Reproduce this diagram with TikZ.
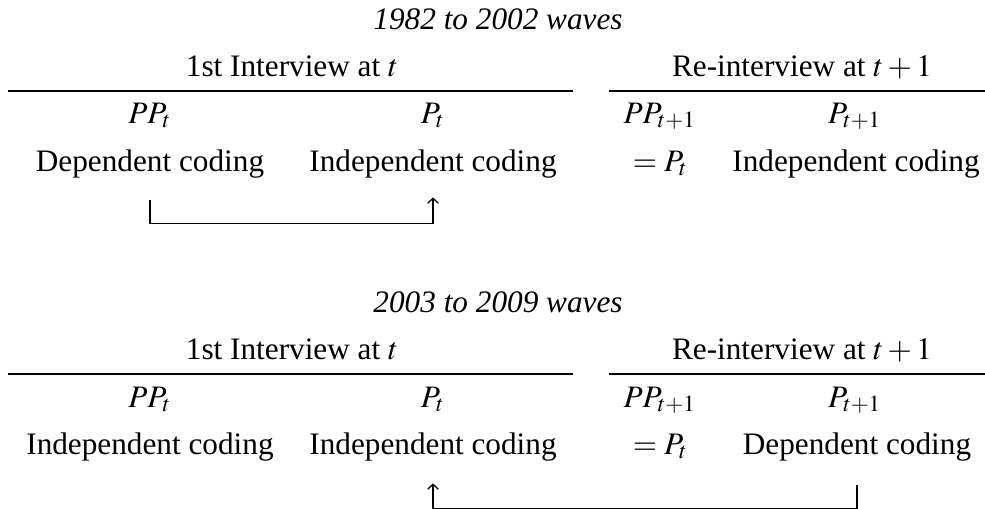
\documentclass[tikz,border=0pt]{standalone}
\usepackage{mathptmx}
\usepackage[no-math]{fontspec}
\setmainfont{Liberation Serif}
\usetikzlibrary{calc, arrows.meta, positioning}

\begin{document}
\begin{tikzpicture}[
    x=0.32pt, y=-0.32pt,
    every node/.style={font=\fontsize{10}{12}\selectfont, inner sep=0pt, anchor=base},
    wave/.style={font=\fontsize{10}{12}\selectfont\itshape},
    rule/.style={line width=0.45pt},
    flow/.style={line width=0.4pt, -{Straight Barb[length=1.6pt,width=3.4pt]}},
]
  \useasboundingbox (0,0) rectangle (985,508);

  % 1982 to 2002 waves
  \node[wave] (wavesA) at (498,29) {1982 to 2002 waves};
  \node (firstA) at (292,76) {1st Interview at $t$};
  \node (reA) at (802,76) {Re-interview at $t+1$};
  \draw[rule] (8,91) -- (573,91);
  \draw[rule] (609,91) -- (985,91);
  \node (ppA) at (150,123) {$PP_t$};
  \node (pA) at (433,123) {$P_t$};
  \node (ppnextA) at (660,123) {$PP_{t+1}$};
  \node (pnextA) at (855,123) {$P_{t+1}$};
  \node (codeA1) at (150,171) {Dependent coding};
  \node (codeA2) at (433,171) {Independent coding};
  \node (eqA) at (657,171) {${}=P_t$};
  \node (codeA4) at (856,171) {Independent coding};
  \draw[flow] ($(codeA1.south)+(0,22)$) -- ($(codeA1.south)+(0,45)$)
              -| ($(codeA2.south)+(0,19)$);

  % 2003 to 2009 waves
  \node[wave] (wavesB) at (498,312) {2003 to 2009 waves};
  \node (firstB) at (292,359) {1st Interview at $t$};
  \node (reB) at (802,359) {Re-interview at $t+1$};
  \draw[rule] (8,374) -- (573,374);
  \draw[rule] (609,374) -- (985,374);
  \node (ppB) at (150,407) {$PP_t$};
  \node (pB) at (433,407) {$P_t$};
  \node (ppnextB) at (660,407) {$PP_{t+1}$};
  \node (pnextB) at (855,407) {$P_{t+1}$};
  \node (codeB1) at (150,454) {Independent coding};
  \node (codeB2) at (433,454) {Independent coding};
  \node (eqB) at (657,454) {${}=P_t$};
  \node (codeB4) at (857,454) {Dependent coding};
  \draw[flow] ($(codeB4.south)+(0,24)$) -- ($(codeB4.south)+(0,47)$)
              -| ($(codeB2.south)+(0,22)$);
\end{tikzpicture}
\end{document}
